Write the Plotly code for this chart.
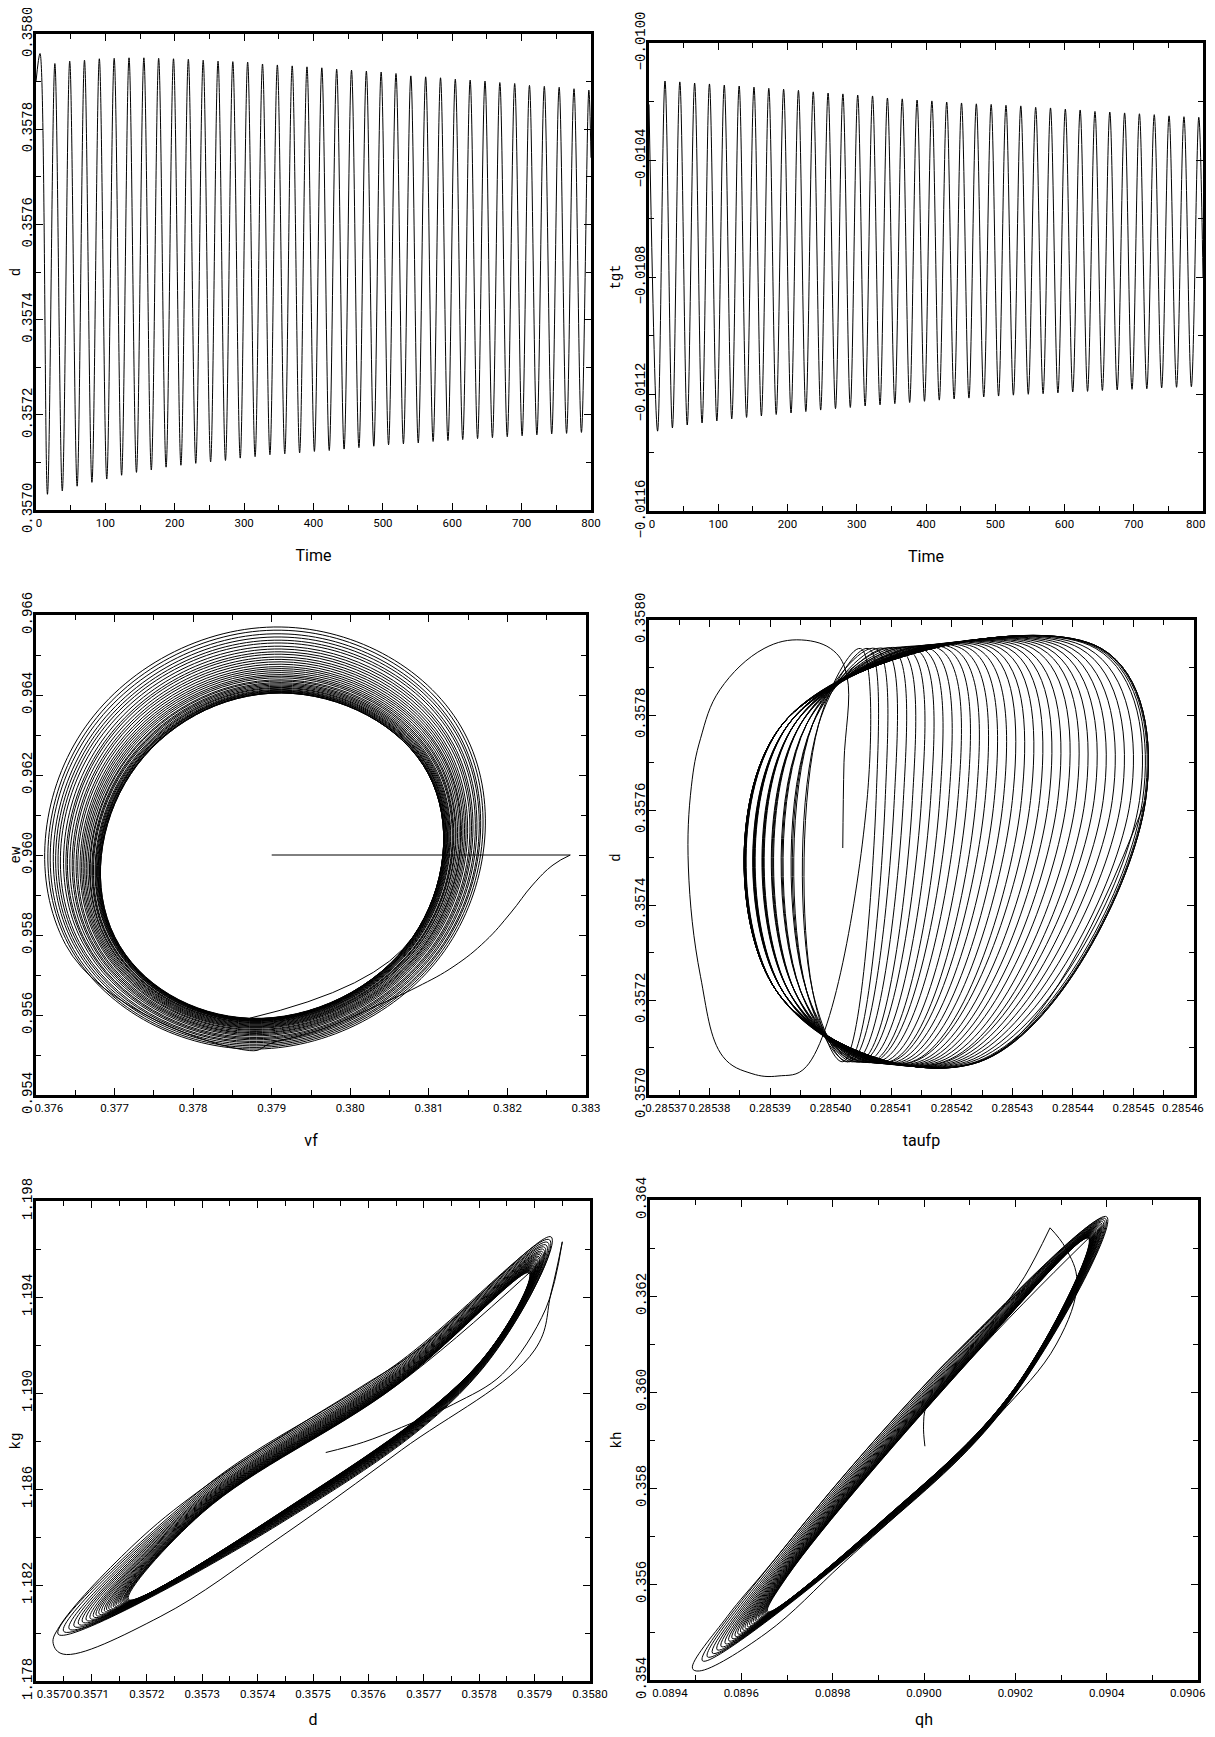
import plotly.graph_objects as go

W, H = 1215, 1737          # page size
PAGE_PAD = 8               # default body margin in front of the plot div
FIG_W, FIG_H = W - PAGE_PAD, H - 2 * PAGE_PAD
INK = "black"
MONO = "Liberation Mono, DejaVu Sans Mono, monospace"
NARROW = "Roboto, Liberation Sans, sans-serif"
NBSP = "\u00a0"

# ---- x tick positions
time_ticks = [0, 100, 200, 300, 400, 500, 600, 700, 800]
vf_ticks = [0.376, 0.377, 0.378, 0.379, 0.380, 0.381, 0.382, 0.383]
taufp_ticks = [0.28537, 0.28538, 0.28539, 0.28540, 0.28541, 0.28542, 0.28543, 0.28544, 0.28545, 0.28546]
d_ticks = [0.3570, 0.3571, 0.3572, 0.3573, 0.3574, 0.3575, 0.3576, 0.3577, 0.3578, 0.3579, 0.3580]
qh_ticks = [0.0894, 0.0896, 0.0898, 0.0900, 0.0902, 0.0904, 0.0906]

# ---- panel 1: d against Time (turning points of the oscillation)
d_ends_t = [0, 800]
d_ends = [0.357900, 0.357740]
d_peak_t = [5.8, 27.2, 48.6, 69.9, 91.3, 112.7, 134.1, 155.5, 176.8, 198.2, 219.6, 241.0, 262.4,
            283.7, 305.1, 326.5, 347.9, 369.3, 390.6, 412.0, 433.4, 454.8, 476.2, 497.5, 518.9,
            540.3, 561.7, 583.1, 604.4, 625.8, 647.2, 668.6, 690.0, 711.3, 732.7, 754.1, 775.5, 796.9]
d_peak = [0.357959, 0.357938, 0.357943, 0.357945, 0.357948, 0.357949, 0.357950, 0.357950, 0.357949,
          0.357948, 0.357947, 0.357945, 0.357943, 0.357942, 0.357941, 0.357937, 0.357935, 0.357933,
          0.357931, 0.357929, 0.357926, 0.357924, 0.357922, 0.357920, 0.357917, 0.357912, 0.357910,
          0.357908, 0.357905, 0.357903, 0.357901, 0.357898, 0.357896, 0.357892, 0.357890, 0.357888,
          0.357885, 0.357882]
d_trough_t = [16.5, 37.9, 59.3, 80.6, 102.0, 123.4, 144.8, 166.2, 187.5, 208.9, 230.3, 251.7, 273.1,
              294.4, 315.8, 337.2, 358.6, 380.0, 401.3, 422.7, 444.1, 465.5, 486.9, 508.2, 529.6,
              551.0, 572.4, 593.8, 615.1, 636.5, 657.9, 679.3, 700.7, 722.0, 743.4, 764.8, 786.2]
d_trough = [0.357033, 0.357040, 0.357050, 0.357058, 0.357065, 0.357073, 0.357079, 0.357084, 0.357090,
            0.357094, 0.357098, 0.357101, 0.357104, 0.357109, 0.357112, 0.357116, 0.357118, 0.357120,
            0.357123, 0.357125, 0.357128, 0.357131, 0.357134, 0.357137, 0.357139, 0.357141, 0.357144,
            0.357146, 0.357148, 0.357150, 0.357152, 0.357154, 0.357156, 0.357158, 0.357160, 0.357161,
            0.357163]

# ---- panel 2: tgt against Time
tgt_ends_t = [0, 800]
tgt_ends = [-0.010210, -0.010800]
tgt_peak_t = [23.1, 44.5, 65.9, 87.3, 108.7, 130.2, 151.6, 173.0, 194.4, 215.8, 237.2, 258.6, 280.0,
              301.4, 322.8, 344.3, 365.7, 387.1, 408.5, 429.9, 451.3, 472.7, 494.1, 515.5, 536.9,
              558.4, 579.8, 601.2, 622.6, 644.0, 665.4, 686.8, 708.2, 729.6, 751.0, 772.5, 793.9]
tgt_peak = [-0.010130, -0.010133, -0.010137, -0.010140, -0.010144, -0.010147, -0.010151, -0.010155,
            -0.010158, -0.010162, -0.010167, -0.010171, -0.010174, -0.010178, -0.010181, -0.010188,
            -0.010191, -0.010195, -0.010198, -0.010202, -0.010205, -0.010208, -0.010210, -0.010213,
            -0.010215, -0.010220, -0.010222, -0.010226, -0.010229, -0.010234, -0.010236, -0.010239,
            -0.010242, -0.010245, -0.010249, -0.010252, -0.010254]
tgt_trough_t = [12.4, 33.8, 55.2, 76.6, 98.0, 119.5, 140.9, 162.3, 183.7, 205.1, 226.5, 247.9, 269.3,
                290.7, 312.1, 333.6, 355.0, 376.4, 397.8, 419.2, 440.6, 462.0, 483.4, 504.8, 526.2,
                547.7, 569.1, 590.5, 611.9, 633.3, 654.7, 676.1, 697.5, 718.9, 740.3, 761.8, 783.2]
tgt_trough = [-0.011327, -0.011316, -0.011306, -0.011299, -0.011292, -0.011285, -0.011280, -0.011275,
              -0.011270, -0.011265, -0.011260, -0.011255, -0.011250, -0.011246, -0.011241, -0.011237,
              -0.011233, -0.011229, -0.011225, -0.011221, -0.011217, -0.011214, -0.011210, -0.011207,
              -0.011204, -0.011201, -0.011199, -0.011196, -0.011193, -0.011191, -0.011188, -0.011186,
              -0.011184, -0.011182, -0.011179, -0.011177, -0.011175]

# ---- panel 3: ew against vf, one entry per loop of the ring (outer loop first)
vf_jump = [0.37900, 0.38280]
ew_jump = [0.96000, 0.96000]
vf_tail = [0.38280, 0.38258, 0.38232, 0.38204, 0.38172, 0.38132, 0.38085, 0.38030, 0.37965, 0.37900]
ew_tail = [0.96000, 0.95975, 0.95925, 0.95855, 0.95785, 0.95722, 0.95670, 0.95620, 0.95565, 0.95530]
ring_bottom_x = 0.37872
ring_top_x = 0.37912
ring_bottom_y = [0.95511, 0.95515, 0.95519, 0.95523, 0.95527, 0.95531, 0.95534, 0.95538, 0.95541,
                 0.95544, 0.95548, 0.95551, 0.95554, 0.95556, 0.95559, 0.95562, 0.95564, 0.95567,
                 0.95569, 0.95571, 0.95573, 0.95575, 0.95577, 0.95579, 0.95581, 0.95582, 0.95584,
                 0.95585, 0.95586, 0.95587, 0.95588, 0.95589, 0.95590, 0.95590, 0.95591, 0.95591, 0.95592]
ring_top_y = [0.96570, 0.96562, 0.96553, 0.96545, 0.96537, 0.96530, 0.96522, 0.96515, 0.96508,
              0.96502, 0.96495, 0.96489, 0.96483, 0.96477, 0.96471, 0.96466, 0.96461, 0.96456,
              0.96451, 0.96447, 0.96443, 0.96438, 0.96435, 0.96431, 0.96428, 0.96425, 0.96422,
              0.96419, 0.96417, 0.96414, 0.96412, 0.96410, 0.96409, 0.96407, 0.96406, 0.96405, 0.96405]
ring_upper_y = [0.963053, 0.963003, 0.962945, 0.962895, 0.962845, 0.962803, 0.962750, 0.962708,
                0.962663, 0.962625, 0.962583, 0.962545, 0.962508, 0.962468, 0.962430, 0.962400,
                0.962368, 0.962338, 0.962305, 0.962280, 0.962255, 0.962223, 0.962205, 0.962180,
                0.962163, 0.962143, 0.962125, 0.962105, 0.962093, 0.962073, 0.962060, 0.962048,
                0.962043, 0.962028, 0.962023, 0.962015, 0.962018]
ring_lower_y = [0.957758, 0.957768, 0.957775, 0.957785, 0.957795, 0.957808, 0.957810, 0.957823,
                0.957828, 0.957835, 0.957848, 0.957855, 0.957863, 0.957863, 0.957870, 0.957880,
                0.957883, 0.957893, 0.957895, 0.957900, 0.957905, 0.957908, 0.957915, 0.957920,
                0.957928, 0.957928, 0.957935, 0.957935, 0.957938, 0.957938, 0.957940, 0.957943,
                0.957948, 0.957943, 0.957948, 0.957945, 0.957953]
ring_ll_x = [0.376377, 0.376413, 0.376439, 0.376474, 0.376500, 0.376527, 0.376553, 0.376589, 0.376616,
             0.376632, 0.376659, 0.376686, 0.376703, 0.376730, 0.376748, 0.376774, 0.376792, 0.376809,
             0.376827, 0.376844, 0.376862, 0.376880, 0.376888, 0.376906, 0.376915, 0.376924, 0.376942,
             0.376950, 0.376959, 0.376968, 0.376977, 0.376976, 0.376985, 0.376994, 0.376994, 0.377003,
             0.377003]
ring_ul_x = [0.376577, 0.376613, 0.376639, 0.376674, 0.376700, 0.376727, 0.376753, 0.376789, 0.376816,
             0.376832, 0.376859, 0.376886, 0.376903, 0.376930, 0.376948, 0.376974, 0.376992, 0.377009,
             0.377027, 0.377044, 0.377062, 0.377080, 0.377088, 0.377106, 0.377115, 0.377124, 0.377142,
             0.377150, 0.377159, 0.377168, 0.377177, 0.377176, 0.377185, 0.377194, 0.377194, 0.377203,
             0.377203]
ring_ur_x = [0.381453, 0.381427, 0.381401, 0.381386, 0.381360, 0.381343, 0.381317, 0.381301, 0.381284,
             0.381258, 0.381241, 0.381224, 0.381207, 0.381190, 0.381182, 0.381166, 0.381148, 0.381131,
             0.381123, 0.381106, 0.381098, 0.381090, 0.381072, 0.381064, 0.381055, 0.381046, 0.381038,
             0.381030, 0.381021, 0.381022, 0.381013, 0.381004, 0.381005, 0.380996, 0.380996, 0.380997,
             0.380997]
ring_lr_x = [0.381253, 0.381227, 0.381201, 0.381186, 0.381160, 0.381143, 0.381117, 0.381101, 0.381084,
             0.381058, 0.381041, 0.381024, 0.381007, 0.380990, 0.380982, 0.380966, 0.380948, 0.380931,
             0.380923, 0.380906, 0.380898, 0.380890, 0.380872, 0.380864, 0.380855, 0.380846, 0.380838,
             0.380830, 0.380821, 0.380822, 0.380813, 0.380804, 0.380805, 0.380796, 0.380796, 0.380797,
             0.380797]

# ---- panel 4: d against taufp (first wide loop, then loops leaning right)
tau_first = [0.2854020, 0.2854022, 0.2854027, 0.2854005, 0.2853952, 0.2853890, 0.2853817, 0.2853785,
             0.2853770, 0.2853765, 0.2853785, 0.2853822, 0.2853870, 0.2853913, 0.2853960]
dtau_first = [0.357520, 0.357700, 0.357881, 0.357935, 0.357958, 0.357940, 0.357853, 0.357750,
              0.357650, 0.357480, 0.357250, 0.357081, 0.357045, 0.357040, 0.357060]
tau_right = [0.2854060, 0.2854075, 0.2854090, 0.2854105, 0.2854120, 0.2854135, 0.2854150, 0.2854165,
             0.2854180, 0.2854195, 0.2854210, 0.2854225, 0.2854240, 0.2854255, 0.2854270, 0.2854285,
             0.2854300, 0.2854315, 0.2854330, 0.2854345, 0.2854360, 0.2854375, 0.2854390, 0.2854405,
             0.2854420, 0.2854435, 0.2854450, 0.2854465, 0.2854480, 0.2854495, 0.2854510, 0.2854515,
             0.2854518, 0.2854520, 0.2854520, 0.2854520]
tau_top = [0.2854049, 0.2854062, 0.2854074, 0.2854088, 0.2854101, 0.2854113, 0.2854126, 0.2854139,
           0.2854151, 0.2854164, 0.2854178, 0.2854191, 0.2854203, 0.2854216, 0.2854229, 0.2854242,
           0.2854256, 0.2854268, 0.2854281, 0.2854294, 0.2854307, 0.2854320, 0.2854334, 0.2854347,
           0.2854359, 0.2854372, 0.2854385, 0.2854398, 0.2854412, 0.2854425, 0.2854438, 0.2854442,
           0.2854445, 0.2854447, 0.2854447, 0.2854447]
tau_left_hi = [0.285398, 0.285398, 0.285397, 0.285397, 0.285397, 0.285396, 0.285396, 0.285396,
               0.285395, 0.285395, 0.285395, 0.285395, 0.285394, 0.285394, 0.285394, 0.285394,
               0.285394, 0.285393, 0.285393, 0.285393, 0.285393, 0.285393, 0.285393, 0.285393,
               0.285392, 0.285392, 0.285392, 0.285392, 0.285392, 0.285392, 0.285392, 0.285392,
               0.285392, 0.285392, 0.285392, 0.285392]
tau_left_lo = [0.285397, 0.285397, 0.285396, 0.285396, 0.285396, 0.285395, 0.285395, 0.285395,
               0.285394, 0.285394, 0.285394, 0.285394, 0.285393, 0.285393, 0.285393, 0.285393,
               0.285393, 0.285392, 0.285392, 0.285392, 0.285392, 0.285392, 0.285392, 0.285392,
               0.285391, 0.285391, 0.285391, 0.285391, 0.285391, 0.285391, 0.285391, 0.285391,
               0.285391, 0.285391, 0.285391, 0.285391]
tau_bottom = [0.2854020, 0.2854028, 0.2854032, 0.2854040, 0.2854048, 0.2854052, 0.2854060, 0.2854068,
              0.2854072, 0.2854080, 0.2854089, 0.2854097, 0.2854101, 0.2854109, 0.2854117, 0.2854125,
              0.2854134, 0.2854137, 0.2854146, 0.2854154, 0.2854162, 0.2854170, 0.2854179, 0.2854187,
              0.2854191, 0.2854199, 0.2854207, 0.2854215, 0.2854224, 0.2854232, 0.2854240, 0.2854243,
              0.2854244, 0.2854246, 0.2854246, 0.2854246]
dtau_right, dtau_top, dtau_left_hi, dtau_left_lo, dtau_bottom = 0.35762, 0.35794, 0.35778, 0.35722, 0.35707

# ---- panel 5: kg against d
kg_start_x = [0.357523, 0.357591, 0.357660, 0.357754, 0.357842, 0.357920, 0.357950]
kg_start_y = [1.18752, 1.18795, 1.18857, 1.18954, 1.19079, 1.19350, 1.19630]
kg_first_x = [0.357950, 0.357930, 0.357900, 0.357660, 0.357442, 0.357224, 0.357049, 0.357031,
              0.357042, 0.357173, 0.357297, 0.357442, 0.357587, 0.357689]
kg_first_y = [1.19630, 1.19420, 1.19179, 1.18763, 1.18401, 1.18068, 1.17912, 1.17957,
              1.18026, 1.18360, 1.18596, 1.18818, 1.19026, 1.19179]
kg_ur_x = [0.357930, 0.357927, 0.357924, 0.357921, 0.357918, 0.357916, 0.357914, 0.357912, 0.357910,
           0.357908, 0.357907, 0.357905, 0.357904, 0.357902, 0.357901, 0.357900, 0.357899, 0.357898,
           0.357897, 0.357896, 0.357895, 0.357894, 0.357893, 0.357892, 0.357892, 0.357891, 0.357891,
           0.357890]
kg_ur_y = [1.19650, 1.19638, 1.19627, 1.19616, 1.19607, 1.19598, 1.19589, 1.19582, 1.19575, 1.19568,
           1.19562, 1.19556, 1.19551, 1.19546, 1.19541, 1.19537, 1.19532, 1.19529, 1.19525, 1.19521,
           1.19518, 1.19515, 1.19512, 1.19509, 1.19507, 1.19505, 1.19502, 1.19500]
kg_lra_x = 0.35780
kg_lra_y = [1.19085, 1.19088, 1.19091, 1.19094, 1.19097, 1.19099, 1.19101, 1.19103, 1.19105, 1.19107,
            1.19108, 1.19110, 1.19111, 1.19113, 1.19114, 1.19115, 1.19116, 1.19117, 1.19118, 1.19119,
            1.19120, 1.19121, 1.19122, 1.19123, 1.19123, 1.19124, 1.19124, 1.19125]
kg_lrb_x = 0.35744
kg_lrb_y = [1.18455, 1.18459, 1.18462, 1.18465, 1.18468, 1.18471, 1.18473, 1.18475, 1.18478, 1.18480,
            1.18481, 1.18483, 1.18485, 1.18486, 1.18488, 1.18489, 1.18490, 1.18491, 1.18493, 1.18494,
            1.18495, 1.18496, 1.18496, 1.18497, 1.18498, 1.18499, 1.18499, 1.18500]
kg_ll_x = [0.357040, 0.357050, 0.357060, 0.357069, 0.357077, 0.357084, 0.357091, 0.357098, 0.357104,
           0.357109, 0.357114, 0.357119, 0.357124, 0.357128, 0.357132, 0.357136, 0.357140, 0.357143,
           0.357146, 0.357149, 0.357152, 0.357154, 0.357157, 0.357159, 0.357161, 0.357163, 0.357165,
           0.357167]
kg_ll_y = [1.17995, 1.18007, 1.18017, 1.18028, 1.18037, 1.18046, 1.18054, 1.18061, 1.18068, 1.18074,
           1.18080, 1.18086, 1.18091, 1.18096, 1.18100, 1.18104, 1.18109, 1.18112, 1.18116, 1.18120,
           1.18123, 1.18126, 1.18128, 1.18131, 1.18133, 1.18136, 1.18138, 1.18140]
kg_ulb_x = 0.35730
kg_ulb_y = [1.18600, 1.18592, 1.18585, 1.18578, 1.18571, 1.18565, 1.18560, 1.18555, 1.18550, 1.18546,
            1.18542, 1.18538, 1.18534, 1.18531, 1.18528, 1.18525, 1.18522, 1.18519, 1.18517, 1.18514,
            1.18512, 1.18510, 1.18508, 1.18506, 1.18505, 1.18503, 1.18502, 1.18500]
kg_ula_x = 0.35765
kg_ula_y = [1.19119, 1.19112, 1.19105, 1.19099, 1.19093, 1.19088, 1.19083, 1.19079, 1.19075, 1.19071,
            1.19067, 1.19063, 1.19060, 1.19057, 1.19054, 1.19052, 1.19049, 1.19047, 1.19045, 1.19042,
            1.19041, 1.19039, 1.19037, 1.19035, 1.19034, 1.19033, 1.19031, 1.19030]

# ---- panel 6: kh against qh
kh_start_x = [0.090002, 0.089999, 0.090005, 0.090050, 0.090100, 0.090160, 0.090220, 0.090276]
kh_start_y = [0.358870, 0.359290, 0.359700, 0.360260, 0.360900, 0.361600, 0.362400, 0.363420]
kh_first_x = [0.090276, 0.090310, 0.090335, 0.090290, 0.090161, 0.089992, 0.089823, 0.089654,
              0.089508, 0.089493, 0.089569, 0.089654, 0.089823, 0.089992, 0.090077]
kh_first_y = [0.363420, 0.363000, 0.362300, 0.361000, 0.359494, 0.357894, 0.356434, 0.354974,
              0.354188, 0.354243, 0.355321, 0.356295, 0.358242, 0.360050, 0.360885]
kh_ur_x = [0.090400, 0.090397, 0.090394, 0.090391, 0.090388, 0.090386, 0.090384, 0.090382, 0.090380,
           0.090378, 0.090377, 0.090375, 0.090374, 0.090372, 0.090371, 0.090370, 0.090369, 0.090368,
           0.090367, 0.090366, 0.090365, 0.090364, 0.090363, 0.090362, 0.090362, 0.090361, 0.090361,
           0.090360]
kh_ur_y = [0.363650, 0.363614, 0.363580, 0.363549, 0.363520, 0.363493, 0.363468, 0.363445, 0.363425,
           0.363405, 0.363387, 0.363369, 0.363353, 0.363337, 0.363324, 0.363310, 0.363297, 0.363286,
           0.363274, 0.363263, 0.363254, 0.363245, 0.363236, 0.363227, 0.363220, 0.363214, 0.363207,
           0.363200]
kh_lra_x = 0.09020
kh_lra_y = [0.359970, 0.359980, 0.359990, 0.359999, 0.360008, 0.360016, 0.360023, 0.360029, 0.360035,
            0.360041, 0.360046, 0.360051, 0.360056, 0.360060, 0.360064, 0.360068, 0.360072, 0.360075,
            0.360079, 0.360082, 0.360084, 0.360087, 0.360090, 0.360092, 0.360094, 0.360096, 0.360098,
            0.360100]
kh_lrb_x = 0.08990
kh_lrb_y = [0.357100, 0.357112, 0.357123, 0.357134, 0.357144, 0.357153, 0.357161, 0.357168, 0.357175,
            0.357182, 0.357188, 0.357194, 0.357199, 0.357204, 0.357209, 0.357213, 0.357218, 0.357222,
            0.357225, 0.357229, 0.357232, 0.357235, 0.357238, 0.357241, 0.357243, 0.357246, 0.357248,
            0.357250]
kh_ll_x = [0.089515, 0.089526, 0.089537, 0.089547, 0.089556, 0.089565, 0.089573, 0.089580, 0.089587,
           0.089593, 0.089599, 0.089604, 0.089609, 0.089614, 0.089619, 0.089623, 0.089627, 0.089631,
           0.089634, 0.089638, 0.089641, 0.089644, 0.089647, 0.089649, 0.089652, 0.089654, 0.089656,
           0.089658]
kh_ll_y = [0.354400, 0.354482, 0.354559, 0.354631, 0.354698, 0.354759, 0.354816, 0.354867, 0.354913,
           0.354959, 0.355000, 0.355041, 0.355077, 0.355113, 0.355144, 0.355175, 0.355205, 0.355231,
           0.355257, 0.355282, 0.355303, 0.355323, 0.355344, 0.355364, 0.355380, 0.355395, 0.355411,
           0.355426]
kh_ulb_x = 0.08970
kh_ulb_y = [0.356825, 0.356771, 0.356720, 0.356673, 0.356629, 0.356589, 0.356552, 0.356518, 0.356488,
            0.356457, 0.356430, 0.356403, 0.356380, 0.356356, 0.356336, 0.356315, 0.356295, 0.356278,
            0.356261, 0.356245, 0.356231, 0.356218, 0.356204, 0.356191, 0.356180, 0.356170, 0.356160,
            0.356150]
kh_ula_x = 0.09010
kh_ula_y = [0.361110, 0.361074, 0.361040, 0.361009, 0.360980, 0.360953, 0.360928, 0.360905, 0.360885,
            0.360865, 0.360847, 0.360829, 0.360813, 0.360797, 0.360784, 0.360770, 0.360757, 0.360746,
            0.360734, 0.360723, 0.360714, 0.360705, 0.360696, 0.360687, 0.360680, 0.360674, 0.360667,
            0.360660]


def merge_series(*pairs):
    pts = sorted(p for ts, vs in pairs for p in zip(ts, vs))
    return [p[0] for p in pts], [p[1] for p in pts]


def loops(anchors):
    """Walk the anchor points loop after loop, closing on the first anchor."""
    n = max(len(a) for pair in anchors for a in pair if isinstance(a, list))
    pick = lambda a, k: a[k] if isinstance(a, list) else a
    xs, ys = [], []
    for k in range(n):
        for ax, ay in anchors:
            xs.append(pick(ax, k))
            ys.append(pick(ay, k))
    xs.append(pick(anchors[0][0], n - 1))
    ys.append(pick(anchors[0][1], n - 1))
    return xs, ys


def tick_text(vals, fmt, lead=0, drop_last=False):
    # the first label sits right of its tick, as in the original
    text = [format(v, fmt) for v in vals]
    text[0] = NBSP * lead + text[0]
    if drop_last:
        text[-1] = ""
    return text


def curve(x, y, ax, shape="spline", smoothing=1.0):
    return go.Scatter(x=x, y=y, xaxis=ax[0], yaxis=ax[1], mode="lines", hoverinfo="skip",
                      line=dict(color=INK, width=1, shape=shape, smoothing=smoothing))


fig = go.Figure()

t1, v1 = merge_series((d_ends_t, d_ends), (d_peak_t, d_peak), (d_trough_t, d_trough))
fig.add_trace(curve(t1, v1, ("x", "y")))
t2, v2 = merge_series((tgt_ends_t, tgt_ends), (tgt_peak_t, tgt_peak), (tgt_trough_t, tgt_trough))
fig.add_trace(curve(t2, v2, ("x2", "y2")))

rx, ry = loops([(ring_bottom_x, ring_bottom_y), (ring_ll_x, ring_lower_y), (ring_ul_x, ring_upper_y),
                (ring_top_x, ring_top_y), (ring_ur_x, ring_upper_y), (ring_lr_x, ring_lower_y)])
fig.add_trace(curve(vf_jump, ew_jump, ("x3", "y3"), shape="linear"))
fig.add_trace(curve(vf_tail + rx, ew_tail + ry, ("x3", "y3"), smoothing=1.2))

px4, py4 = loops([(tau_right, dtau_right), (tau_top, dtau_top), (tau_left_hi, dtau_left_hi),
                  (tau_left_lo, dtau_left_lo), (tau_bottom, dtau_bottom)])
fig.add_trace(curve(tau_first + px4, dtau_first + py4, ("x4", "y4"), smoothing=1.1))

px5, py5 = loops([(kg_ur_x, kg_ur_y), (kg_lra_x, kg_lra_y), (kg_lrb_x, kg_lrb_y), (kg_ll_x, kg_ll_y),
                  (kg_ulb_x, kg_ulb_y), (kg_ula_x, kg_ula_y)])
fig.add_trace(curve(kg_start_x, kg_start_y, ("x5", "y5")))
fig.add_trace(curve(kg_first_x + px5, kg_first_y + py5, ("x5", "y5"), smoothing=1.1))

px6, py6 = loops([(kh_ur_x, kh_ur_y), (kh_lra_x, kh_lra_y), (kh_lrb_x, kh_lrb_y), (kh_ll_x, kh_ll_y),
                  (kh_ulb_x, kh_ulb_y), (kh_ula_x, kh_ula_y)])
fig.add_trace(curve(kh_start_x, kh_start_y, ("x6", "y6")))
fig.add_trace(curve(kh_first_x + px6, kh_first_y + py6, ("x6", "y6"), smoothing=1.1))


def common_axis(rng, minor):
    return dict(range=rng, ticks="inside", ticklen=7, tickcolor=INK, tickwidth=1,
                minor=dict(tick0=rng[0], dtick=minor, ticks="inside", ticklen=5,
                           tickcolor=INK, tickwidth=1),
                showline=True, linewidth=3, linecolor=INK, mirror="allticks",
                showgrid=False, zeroline=False, automargin=False, ticklabeloverflow="allow")


def x_axis(box, rng, vals, text, minor, title, anchor):
    ax = common_axis(rng, minor)
    left, right = box[0] - PAGE_PAD, box[1] - PAGE_PAD
    ax.update(domain=[left / FIG_W, right / FIG_W], anchor=anchor,
              tickmode="array", tickvals=vals, ticktext=text, tickangle=0,
              tickfont=dict(family=NARROW, size=11.5, color=INK),
              title=dict(text=title, font=dict(family=NARROW, size=16, color=INK), standoff=22))
    return ax


def y_axis(box, rng, dtick, minor, fmt, title, anchor):
    ax = common_axis(rng, minor)
    top, bottom = box[2] - PAGE_PAD, box[3] - PAGE_PAD
    ax.update(domain=[1 - bottom / FIG_H, 1 - top / FIG_H], anchor=anchor,
              tick0=rng[0], dtick=dtick, tickformat=fmt,
              tickangle=-90, ticklabelstandoff=-5, tickfont=dict(family=MONO, size=14, color=INK),
              title=dict(text=title, font=dict(family=MONO, size=14, color=INK), standoff=10))
    return ax


def end_label(text, box, shift):
    # last x label of a right-hand panel, pulled in so it stays on the page
    fig.add_annotation(x=(box[1] - PAGE_PAD) / FIG_W, y=1 - (box[3] - PAGE_PAD) / FIG_H,
                       xref="paper", yref="paper", text=text, showarrow=False,
                       xanchor="center", yanchor="middle", xshift=shift, yshift=-13,
                       font=dict(family=NARROW, size=11.5, color=INK))


# panel boxes in page pixels: left, right, top, bottom
B1 = (36, 591, 34, 510)
B2 = (649, 1203, 43, 511)
B3 = (36, 586, 615, 1095)
B4 = (649, 1194, 620, 1095)
B5 = (36, 590, 1201, 1681)
B6 = (650, 1198, 1200, 1680)

fig.update_layout(
    width=FIG_W, height=FIG_H, autosize=False, showlegend=False,
    margin=dict(l=0, r=0, t=0, b=0), paper_bgcolor="white", plot_bgcolor="white",
    xaxis=x_axis(B1, [0, 800], time_ticks, tick_text(time_ticks, "d", lead=2), 50, "Time", "y"),
    yaxis=y_axis(B1, [0.3570, 0.3580], 0.0002, 0.0001, ".4f", "d", "x"),
    xaxis2=x_axis(B2, [0, 800], time_ticks, tick_text(time_ticks, "d", lead=2, drop_last=True), 50,
                  "Time", "y2"),
    yaxis2=y_axis(B2, [-0.0116, -0.0100], 0.0004, 0.0002, ".4f", "tgt", "x2"),
    xaxis3=x_axis(B3, [0.376, 0.383], vf_ticks, tick_text(vf_ticks, ".3f", lead=9), 0.0005,
                  "vf", "y3"),
    yaxis3=y_axis(B3, [0.954, 0.966], 0.002, 0.001, ".3f", "ew", "x3"),
    xaxis4=x_axis(B4, [0.28537, 0.28546], taufp_ticks,
                  tick_text(taufp_ticks, ".5f", lead=12, drop_last=True), 0.000005, "taufp", "y4"),
    yaxis4=y_axis(B4, [0.3570, 0.3580], 0.0002, 0.0001, ".4f", "d", "x4"),
    xaxis5=x_axis(B5, [0.3570, 0.3580], d_ticks, tick_text(d_ticks, ".4f", lead=13), 0.00005,
                  "d", "y5"),
    yaxis5=y_axis(B5, [1.178, 1.198], 0.004, 0.002, ".3f", "kg", "x5"),
    xaxis6=x_axis(B6, [0.0894, 0.0906], qh_ticks, tick_text(qh_ticks, ".4f", lead=14, drop_last=True),
                  0.0001, "qh", "y6"),
    yaxis6=y_axis(B6, [0.354, 0.364], 0.002, 0.001, ".3f", "kh", "x6"),
)

end_label(format(time_ticks[-1], "d"), B2, -8)
end_label(format(taufp_ticks[-1], ".5f"), B4, -11)
end_label(format(qh_ticks[-1], ".4f"), B6, -11)

fig.write_html("out.html")
